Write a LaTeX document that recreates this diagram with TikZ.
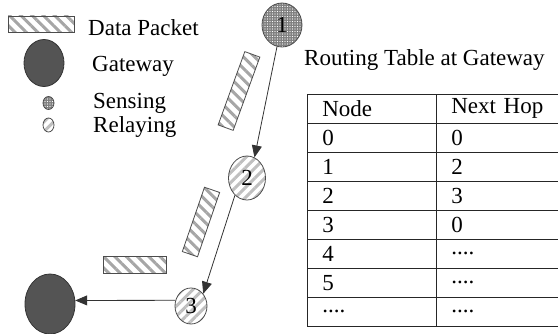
\documentclass[tikz,border=0pt]{standalone}
\usepackage{fontspec}
\setmainfont{Liberation Serif}
\usetikzlibrary{positioning, arrows.meta, patterns.meta, shapes.geometric, matrix}

\begin{document}
\begin{tikzpicture}[x=1pt, y=-1pt,
  font=\fontsize{23}{27}\selectfont,
  packet/.style={draw=black!70, line width=0.8pt, inner sep=0pt,
    pattern={Lines[angle=-45,distance=8pt,line width=3pt]}, pattern color=black!35},
  relay/.style={ellipse, draw=black!70, line width=0.8pt, inner sep=0pt,
    pattern={Lines[angle=45,distance=7pt,line width=3pt]}, pattern color=black!25},
  sense/.style={ellipse, draw=black!70, line width=0.8pt, inner sep=0pt,
    preaction={fill=black!50},
    pattern={Dots[distance=2.5pt,radius=0.55pt]}, pattern color=white},
  gate/.style={ellipse, draw=black!80, line width=0.8pt, fill=black!67, inner sep=0pt},
  lbl/.style={anchor=base west, inner sep=0pt},
  arr/.style={-{Triangle[length=12pt,width=10pt]}, draw=black!80, line width=0.8pt}]
  \useasboundingbox (0,0) rectangle (558,334);
  \clip (0,0) rectangle (558,334);

  % legend
  \node[packet, minimum width=66pt, minimum height=16pt] (lgPacket) at (41,24) {};
  \node[gate, minimum width=40pt, minimum height=47pt] (lgGateway) at (44,63) {};
  \node[sense, minimum width=11pt, minimum height=13pt] (lgSensing) at (48.5,103) {};
  \node[relay, minimum width=11pt, minimum height=14pt] (lgRelaying) at (48.5,125) {};
  \node[lbl] (txPacket) at (88,36) {Data Packet};
  \node[lbl] (txGateway) at (92,72) {Gateway};
  \node[lbl] (txSensing) at (93,109) {Sensing};
  \node[lbl] (txRelaying) at (93,133) {Relaying};

  % network
  \node[sense, minimum width=40pt, minimum height=44pt] (n1) at (282,25) {1};
  \node[relay, minimum width=37pt, minimum height=44pt] (n2) at (247,178) {2};
  \node[relay, minimum width=32pt, minimum height=36pt] (n3) at (191,306) {3};
  \node[gate, minimum width=50pt, minimum height=60pt] (gw) at (50,304) {};

  \node[packet, minimum width=78pt, minimum height=16pt, rotate=70] (pktA) at (239,91) {};
  \node[packet, minimum width=68pt, minimum height=16pt, rotate=71] (pktB) at (201,222) {};
  \node[packet, minimum width=63pt, minimum height=17pt] (pktC) at (134.5,265) {};

  \draw[arr] (n1.257) -- (n2.70);
  \draw[arr] (n2.235) -- (n3.45);
  \draw[arr] (n3.160) -- (gw.8);

  % routing table
  \node[lbl] (rtTitle) at (304,66) {Routing Table at Gateway};
  \matrix (rt) [matrix of nodes, anchor=north west, row sep=-1.6pt, column sep=-1.6pt,
    nodes={draw=black!85, line width=1.6pt, minimum height=29pt, inner xsep=15pt,
      inner ysep=0pt, align=left, anchor=center},
    column 1/.style={nodes={text width=99pt}},
    column 2/.style={nodes={text width=105pt}}] at (303,90)
  {
    Node & Next Hop \\
    0 & 0 \\
    1 & 2 \\
    2 & 3 \\
    3 & 0 \\
    4 & .... \\
    5 & .... \\
    .... & .... \\
  };
\end{tikzpicture}
\end{document}
